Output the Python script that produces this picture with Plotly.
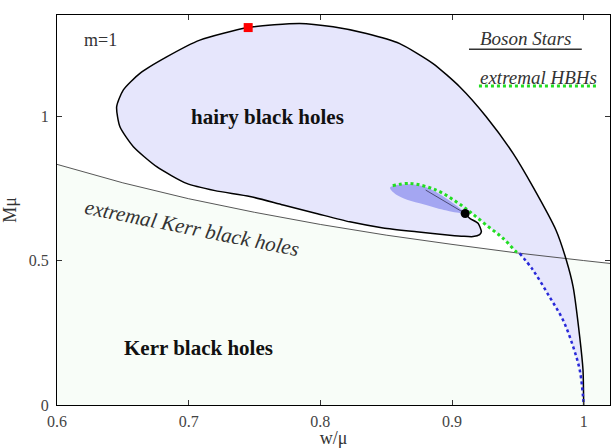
import plotly.graph_objects as go

# Boson star curve (w/mu, M mu), from (1,0) around the loop into the spiral
bs_w = [1.0, 0.9995, 0.997, 0.992, 0.9868, 0.979, 0.9615, 0.9464, 0.926, 0.906,
        0.8856, 0.8603, 0.835, 0.8097, 0.7844, 0.7452, 0.7085, 0.6833, 0.663, 0.6503,
        0.6453, 0.6478, 0.658, 0.6757, 0.6984, 0.7200, 0.7465, 0.7718, 0.797, 0.8224,
        0.8477, 0.873, 0.8983, 0.9084, 0.916, 0.921, 0.9223, 0.9198, 0.9135, 0.910,
        0.900, 0.890, 0.880]
bs_M = [0.0, 0.121, 0.236, 0.409, 0.502, 0.605, 0.755, 0.871, 0.998, 1.101,
        1.182, 1.251, 1.286, 1.309, 1.321, 1.3065, 1.263, 1.205, 1.148, 1.09,
        1.032, 0.963, 0.894, 0.825, 0.767, 0.742, 0.722, 0.692, 0.663, 0.634,
        0.613, 0.600, 0.588, 0.584, 0.583, 0.590, 0.600, 0.629, 0.646, 0.663,
        0.690, 0.718, 0.744]
dot_index = 39  # black dot on the boson star curve

# extremal hairy black holes (green dotted)
ext_w = [0.855, 0.868, 0.888, 0.9034, 0.9135, 0.926, 0.9388, 0.949, 0.9514]
ext_M = [0.759, 0.767, 0.744, 0.703, 0.669, 0.623, 0.577, 0.530, 0.525]

# Kerr existence line (blue dotted)
exl_w = [0.9514, 0.9615, 0.974, 0.9843, 0.992, 0.997, 0.9995, 1.0]
exl_M = [0.525, 0.467, 0.375, 0.294, 0.202, 0.121, 0.030, 0.0]

# extremal Kerr black holes
kerr_w = [0.6, 0.65, 0.7, 0.75, 0.8, 0.85, 0.9, 0.95, 1.0, 1.02]
kerr_M = [0.833, 0.769, 0.714, 0.667, 0.625, 0.588, 0.556, 0.526, 0.5, 0.49]

# darker blue region near the spiral
blob_w = [0.853, 0.859, 0.868, 0.881, 0.896, 0.910, 0.9034, 0.888, 0.8755, 0.863, 0.8560, 0.853]
blob_M = [0.752, 0.762, 0.764, 0.753, 0.714, 0.663, 0.666, 0.682, 0.698, 0.716, 0.734, 0.752]

# special points
max_w, max_M = [0.7452], [1.3065]

serif = "Liberation Serif"
fig = go.Figure()

# Kerr region fill
fig.add_trace(go.Scatter(x=kerr_w, y=kerr_M, mode="lines", fill="tozeroy",
                         fillcolor="#f8fdf8", line=dict(color="rgba(0,0,0,0)", width=0),
                         hoverinfo="skip", showlegend=False))

# hairy black holes region fill
i_g = next(i for i, w in enumerate(ext_w) if w > bs_w[dot_index])
poly_w = bs_w[:dot_index + 1] + ext_w[i_g:] + exl_w
poly_M = bs_M[:dot_index + 1] + ext_M[i_g:] + exl_M
fig.add_trace(go.Scatter(x=poly_w, y=poly_M, mode="lines", fill="toself",
                         fillcolor="#e6e6fc", line=dict(color="rgba(0,0,0,0)", width=0),
                         hoverinfo="skip", showlegend=False))

# blob
fig.add_trace(go.Scatter(x=blob_w, y=blob_M, mode="lines", fill="toself",
                         fillcolor="#a4a6f2", line=dict(color="rgba(0,0,0,0)", width=0, shape="spline"),
                         hoverinfo="skip", showlegend=False))

# extremal Kerr line
fig.add_trace(go.Scatter(x=kerr_w, y=kerr_M, mode="lines",
                         line=dict(color="#444444", width=0.9), showlegend=False))

# Boson star curve
fig.add_trace(go.Scatter(x=bs_w[:dot_index + 1], y=bs_M[:dot_index + 1], mode="lines",
                         line=dict(color="black", width=1.5, shape="spline", smoothing=0.6),
                         showlegend=False))
fig.add_trace(go.Scatter(x=bs_w[dot_index:], y=bs_M[dot_index:], mode="lines",
                         line=dict(color="#333355", width=0.8), showlegend=False))

# Kerr existence line (blue dotted)
fig.add_trace(go.Scatter(x=exl_w, y=exl_M, mode="lines",
                         line=dict(color="#2828d8", width=2.5, dash="dot", shape="spline"),
                         showlegend=False))
# extremal HBHs (green dotted)
fig.add_trace(go.Scatter(x=ext_w, y=ext_M, mode="lines",
                         line=dict(color="#22dd22", width=3, dash="dot", shape="spline"),
                         showlegend=False))

# points
fig.add_trace(go.Scatter(x=[bs_w[dot_index]], y=[bs_M[dot_index]], mode="markers",
                         marker=dict(color="black", size=9, symbol="circle"), showlegend=False))
fig.add_trace(go.Scatter(x=max_w, y=max_M, mode="markers",
                         marker=dict(color="red", size=9, symbol="square"), showlegend=False))

# legend-like lines (paper coords)
fig.add_shape(type="line", xref="paper", yref="paper", x0=0.745, x1=0.949, y0=0.912, y1=0.912,
              line=dict(color="#333333", width=1.5))
fig.add_shape(type="line", xref="paper", yref="paper", x0=0.763, x1=0.976, y0=0.818, y1=0.818,
              line=dict(color="#22dd22", width=3, dash="dot"))

fig.add_annotation(xref="x", yref="y", x=0.7022, y=0.611, text="<i>extremal Kerr black holes</i>",
                   textangle=11.3, showarrow=False, xanchor="center", yanchor="middle",
                   font=dict(family=serif, size=21, color="#333333"))
fig.add_annotation(xref="x", yref="y", x=0.760, y=0.997, text="<b>hairy black holes</b>",
                   showarrow=False, xanchor="center", yanchor="middle",
                   font=dict(family=serif, size=21, color="#111111"))
fig.add_annotation(xref="x", yref="y", x=0.7078, y=0.197, text="<b>Kerr black holes</b>",
                   showarrow=False, xanchor="center", yanchor="middle",
                   font=dict(family=serif, size=21, color="#111111"))

fig.add_annotation(xref="paper", yref="paper", x=(100 - 57) / 553, y=(405 - 40) / 390,
                   text="m=1", showarrow=False, xanchor="center", yanchor="middle",
                   font=dict(family=serif, size=18, color="#333333"))
fig.add_annotation(xref="paper", yref="paper", x=(525 - 57) / 553, y=(405 - 38) / 390,
                   text="<i>Boson Stars</i>", showarrow=False, xanchor="center", yanchor="middle",
                   font=dict(family=serif, size=19, color="#333333"))
fig.add_annotation(xref="paper", yref="paper", x=(538 - 57) / 553, y=(405 - 77) / 390,
                   text="<i>extremal HBHs</i>", showarrow=False, xanchor="center", yanchor="middle",
                   font=dict(family=serif, size=19, color="#333333"))

axis_common = dict(showgrid=False, zeroline=False, ticks="inside", ticklen=5,
                   tickcolor="#333333", mirror="ticks", showline=True, linecolor="black",
                   linewidth=1.2, automargin=False,
                   tickfont=dict(family=serif, size=16, color="#444444"))
fig.update_xaxes(range=[0.6, 1.02], tickvals=[0.6, 0.7, 0.8, 0.9, 1.0],
                 ticktext=["0.6", "0.7", "0.8", "0.9", "1"], ticklabelstandoff=2,
                 title=dict(text="w/μ", font=dict(family=serif, size=18, color="#333333"),
                            standoff=0), **axis_common)
fig.update_yaxes(range=[0, 1.35], tickvals=[0, 0.5, 1], ticktext=["0", "0.5", "1"],
                 ticklabelstandoff=4,
                 title=dict(text="Mμ", font=dict(family=serif, size=18, color="#333333"),
                            standoff=12), **axis_common)

fig.update_layout(width=614, height=448, margin=dict(l=57, r=4, t=15, b=43),
                  plot_bgcolor="white", paper_bgcolor="white")
fig.write_html("out.html")
